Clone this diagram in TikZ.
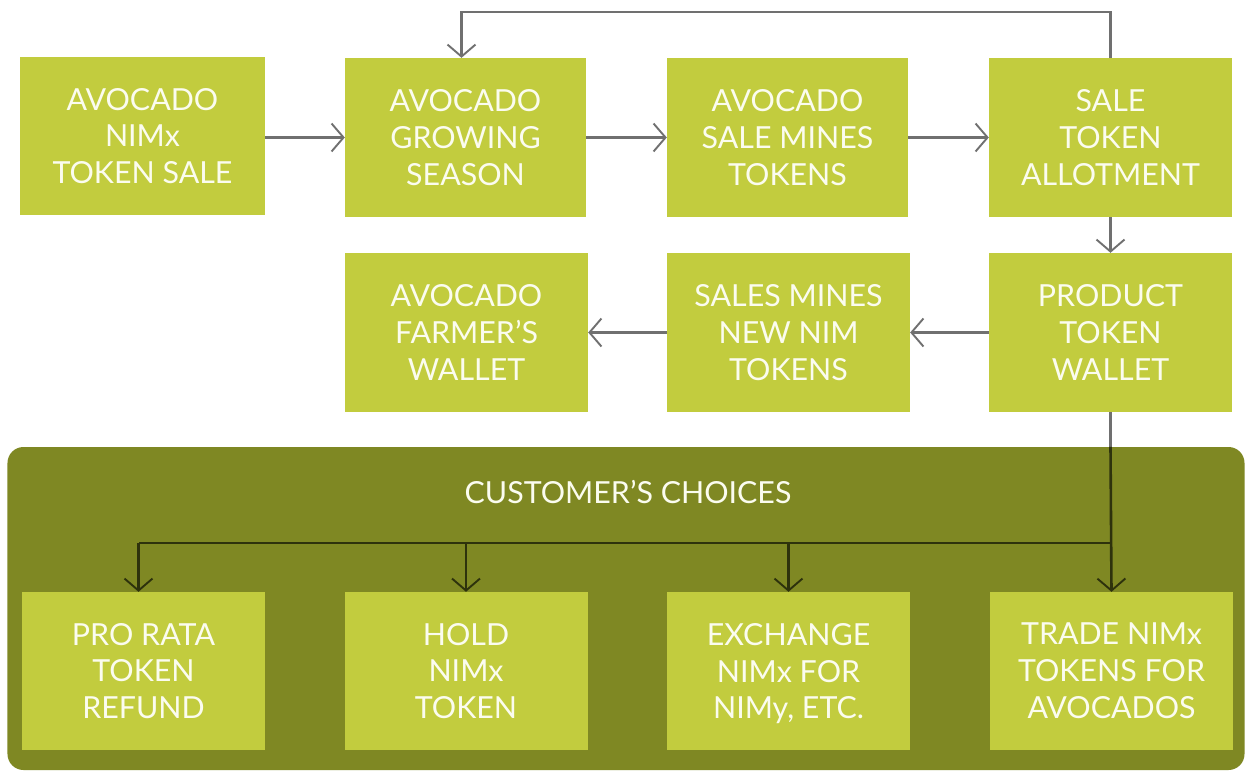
\documentclass[tikz,border=0pt]{standalone}
\usepackage{fontspec}
\setmainfont{Lato}
\usetikzlibrary{arrows.meta,positioning}
\definecolor{boxgreen}{HTML}{C2CC3E}
\definecolor{panelgreen}{HTML}{7F8823}
\definecolor{topline}{HTML}{707070}
\definecolor{panelline}{HTML}{2E320C}
\definecolor{txt}{HTML}{FBFCEF}
\tikzset{
  stepbox/.style={fill=boxgreen, draw=none, minimum width=243bp, minimum height=158bp,
    inner sep=0pt, align=center, text=txt, font=\fontsize{30.5}{37}\selectfont},
  tip/.style={-{Straight Barb[length=12bp,width=28bp,line width=1.9bp]}},
  flow/.style={draw=topline, line width=2.6bp, tip},
  pflow/.style={draw=panelline, line width=2.6bp, tip},
}
\begin{document}
\begin{tikzpicture}[x=1bp,y=-1bp]
\useasboundingbox (0,0) rectangle (1247,775);
\fill[white] (0,0) rectangle (1247,775);
% panel
\node[fill=panelgreen, rounded corners=16bp, minimum width=1237bp, minimum height=323bp, inner sep=0pt] (panel) at (626,608.5) {};
\node[text=txt, font=\fontsize{30.5}{37}\selectfont] (title) at (628,492) {CUSTOMER’S CHOICES};
% row 1
\node[stepbox, minimum width=245bp] (A) at (142.5,136) {AVOCADO\\NIMx\\TOKEN SALE};
\node[stepbox, minimum width=241bp, minimum height=159bp] (B) at (465.5,137.5) {AVOCADO\\GROWING\\SEASON};
\node[stepbox, minimum width=241bp, minimum height=159bp] (C) at (787.5,137.5) {AVOCADO\\SALE MINES\\TOKENS};
\node[stepbox, minimum height=159bp] (D) at (1110.5,137.5) {SALE\\TOKEN\\ALLOTMENT};
% row 2
\node[stepbox, minimum height=159bp] (E) at (466.5,332.5) {AVOCADO\\FARMER’S\\WALLET};
\node[stepbox, minimum height=159bp] (F) at (788.5,332.5) {SALES MINES\\NEW NIM\\TOKENS};
\node[stepbox, minimum height=159bp] (G) at (1110.5,332.5) {PRODUCT\\TOKEN\\WALLET};
% row 3
\node[stepbox] (H) at (143.5,671) {PRO RATA\\TOKEN\\REFUND};
\node[stepbox] (I) at (466,671) {HOLD\\NIMx\\TOKEN};
\node[stepbox] (J) at (788.5,671) {EXCHANGE\\NIMx FOR\\\raisebox{0pt}[\height][0pt]{NIMy, ETC.}};
\node[stepbox] (K) at (1111.5,671) {TRADE NIMx\\TOKENS FOR\\AVOCADOS};
% coordinates
\coordinate (loop) at (0,12);
\coordinate (bus) at (0,543);
% connectors
\draw[flow] (A.east |- B.west) -- (B.west);
\draw[flow] (B) -- (C);
\draw[flow] (C) -- (D);
\draw[flow] (D) -- (G);
\draw[flow] (G) -- (F);
\draw[flow] (F) -- (E);
\draw[flow] (D.north) -- (D.north |- loop) -- ([xshift=-4bp]B.north |- loop) -- ([xshift=-4bp]B.north);
\draw[draw=topline, line width=2.6bp] (G.south) -- (G.south |- panel.north);
\draw[pflow] (G.south |- panel.north) -- (K.north);
\draw[draw=panelline, line width=2.6bp] (G.south |- bus) -- ([xshift=-5bp]H.north |- bus);
\draw[pflow] ([xshift=-5bp]H.north |- bus) -- ([xshift=-5bp]H.north);
\draw[pflow] (I.north |- bus) -- (I.north);
\draw[pflow] (J.north |- bus) -- (J.north);
\end{tikzpicture}
\end{document}
